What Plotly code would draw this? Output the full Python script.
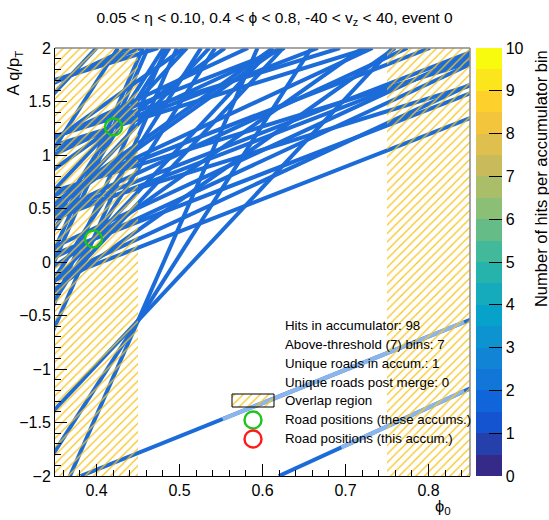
import plotly.graph_objects as go

# ---- accumulator content: one straight line per hit in (phi0, A q/pT) space ----
# hit_phi: phi0 at which the hit's line crosses A q/pT = 0
# hit_slope: d(A q/pT)/d(phi0) of that line (set by the layer radius)
hit_phi = [
    -0.105, 0.000, 0.070, 0.191, 0.268, 0.317, 0.349,
    0.325, 0.337, 0.357, 0.371, 0.379, 0.384,
    0.406,
    0.516, 0.495, 0.481,
    -0.359, -0.213, -0.116, 0.159,
    0.0725, 0.135, 0.177, 0.249, 0.295, 0.324, 0.343,
    -0.140, -0.040, 0.027, 0.142, 0.262,
    0.163, 0.197, 0.219, 0.257,
    0.396, 0.384, 0.371,
    0.310, 0.215, 0.362, 0.390,
    1.024, 1.183,
]
hit_slope = [
    2.4, 3.0, 3.6, 5.5, 8.3, 12.2, 17.7,
    3.0, 3.6, 5.5, 8.3, 12.2, 17.7,
    3.03,
    8.3, 12.2, 17.7,
    2.4, 3.0, 3.6, 8.3,
    2.4, 3.0, 3.6, 5.5, 8.3, 12.2, 17.7,
    2.4, 3.0, 3.6, 5.5, 12.2,
    2.4, 3.0, 3.6, 5.5,
    5.5, 8.3, 17.7,
    3.6, 3.0, 12.2, 3.6,
    3.11, 3.55,
]

# roads found in this accumulator group
road_phi = [0.4205, 0.3964]
road_qpt = [1.262, 0.215]

# sector-overlap phi ranges
overlap_lo = [0.35, 0.75]
overlap_hi = [0.45, 0.85]

info_lines = [
    "Hits in accumulator: 98",
    "Above-threshold (7) bins: 7",
    "Unique roads in accum.: 1",
    "Unique roads post merge: 0",
]
legend_labels = [
    "Overlap region",
    "Road positions (these accums.)",
    "Road positions (this accum.)",
]

PHI_MIN, PHI_MAX = 0.35, 0.85
Q_MIN, Q_MAX = -2.0, 2.0

LINE_BLUE = "#1b6bd8"
FADED_BLUE = "#8cb6ea"
HATCH_GOLD = "#f6c31c"
FONT = "Liberation Sans, Arial, sans-serif"

# segments of some hit lines rendered in a paler shade: (line index, phi from, phi to)
faded_parts = [(44, 0.552, 0.843), (45, 0.695, 0.843)]

# ROOT "bird" palette, 20 contour bands over 0..10
bird_r = [0.2082, 0.0592, 0.0780, 0.0232, 0.1802, 0.5301, 0.8186, 0.9956, 0.9764]
bird_g = [0.1664, 0.3599, 0.5041, 0.6419, 0.7178, 0.7492, 0.7328, 0.7862, 0.9832]
bird_b = [0.5293, 0.8684, 0.8385, 0.7914, 0.6425, 0.4662, 0.3499, 0.1968, 0.0539]


def bird(t):
    pos = t * (len(bird_r) - 1)
    i = min(int(pos), len(bird_r) - 2)
    f = pos - i
    c = [ch[i] + (ch[i + 1] - ch[i]) * f for ch in (bird_r, bird_g, bird_b)]
    return "rgb(%d,%d,%d)" % tuple(round(v * 255) for v in c)


n_bands = 20
colorscale = []
for i in range(n_bands):
    col = bird(i / (n_bands - 1))
    colorscale.append([i / n_bands, col])
    colorscale.append([(i + 1) / n_bands, col])

fig = go.Figure()

# palette key (heatmap kept outside the visible window, only its colour bar shows)
fig.add_trace(go.Heatmap(
    x=[5, 6], y=[5, 6], z=[[0, 10], [10, 0]],
    zmin=0, zmax=10, colorscale=colorscale, hoverinfo="skip",
    colorbar=dict(
        x=1.0145, xanchor="left", xref="paper", y=0.5, yanchor="middle",
        len=1.0, lenmode="fraction", thickness=26, outlinewidth=0,
        xpad=0, ypad=0,
        tickmode="array", tickvals=list(range(11)),
        ticks="inside", ticklen=13, tickcolor="black", tickwidth=1,
        tickfont=dict(family=FONT, size=16, color="black"),
    ),
))

# hit lines across the full A q/pT range
xs, ys = [], []
for phi, k in zip(hit_phi, hit_slope):
    xs += [phi + Q_MIN / k, phi + Q_MAX / k, None]
    ys += [Q_MIN, Q_MAX, None]
fig.add_trace(go.Scatter(x=xs, y=ys, mode="lines", hoverinfo="skip",
                         line=dict(color=LINE_BLUE, width=4), showlegend=False))

fx, fy = [], []
for idx, a, b in faded_parts:
    phi, k = hit_phi[idx], hit_slope[idx]
    fx += [a, b, None]
    fy += [k * (a - phi), k * (b - phi), None]
fig.add_trace(go.Scatter(x=fx, y=fy, mode="lines", hoverinfo="skip",
                         line=dict(color=FADED_BLUE, width=4), showlegend=False))

# hatched overlap regions drawn over the accumulator
for lo, hi in zip(overlap_lo, overlap_hi):
    fig.add_trace(go.Scatter(
        x=[lo, hi, hi, lo, lo], y=[Q_MIN, Q_MIN, Q_MAX, Q_MAX, Q_MIN],
        mode="lines", fill="toself", line=dict(width=0),
        fillcolor="rgba(0,0,0,0)",
        fillpattern=dict(shape="/", fgcolor=HATCH_GOLD, bgcolor="rgba(0,0,0,0)",
                         size=6, solidity=0.2, fillmode="replace"),
        hoverinfo="skip", showlegend=False))

# road markers
fig.add_trace(go.Scatter(x=road_phi, y=road_qpt, mode="markers", hoverinfo="skip",
                         marker=dict(symbol="circle-open", size=17, color="#1cc41c",
                                     line=dict(width=2.4, color="#1cc41c")),
                         showlegend=False))

# ---- key drawn on an overlay frame measured in pixels of the plot area ----
fig.add_trace(go.Scatter(
    x=[232, 274, 274, 232, 232], y=[394, 394, 407, 407, 394], xaxis="x2", yaxis="y2",
    mode="lines", fill="toself", line=dict(width=1, color="black"),
    fillcolor="rgba(0,0,0,0)",
    fillpattern=dict(shape="/", fgcolor=HATCH_GOLD, bgcolor="rgba(0,0,0,0)",
                     size=6, solidity=0.2, fillmode="replace"),
    hoverinfo="skip", showlegend=False))
fig.add_trace(go.Scatter(
    x=[253, 253], y=[420, 439], xaxis="x2", yaxis="y2", mode="markers",
    marker=dict(symbol="circle-open", size=17, color=["#1cc41c", "#ff1a1a"],
                line=dict(width=2.4, color=["#1cc41c", "#ff1a1a"])),
    hoverinfo="skip", showlegend=False))

annotations = []
text_rows = info_lines + legend_labels
row_y = [325, 344, 363, 382, 400, 419, 438]
for txt, yy in zip(text_rows, row_y):
    annotations.append(dict(x=283, y=yy, xref="x2", yref="y2", text=txt,
                            showarrow=False, xanchor="left", yanchor="middle",
                            font=dict(family=FONT, size=13.3, color="black")))

# axis titles and colour-bar title
annotations.append(dict(x=-0.099, y=1.0, xref="paper", yref="paper",
                        text="A q/p<sub>T</sub>", textangle=-90, showarrow=False,
                        xanchor="center", yanchor="top",
                        font=dict(family=FONT, size=16.5, color="black")))
annotations.append(dict(x=0.935, y=-0.072, xref="paper", yref="paper",
                        text="ϕ<sub>0</sub>", showarrow=False,
                        xanchor="center", yanchor="middle",
                        font=dict(family=FONT, size=16.5, color="black")))
annotations.append(dict(x=1.17, y=1.0, xref="paper", yref="paper",
                        text="Number of hits per accumulator bin", textangle=-90,
                        showarrow=False, xanchor="center", yanchor="top",
                        font=dict(family=FONT, size=16.5, color="black")))

axis_common = dict(showgrid=False, zeroline=False, showline=True, linecolor="black",
                   linewidth=1, ticks="inside", tickcolor="black", ticklen=12,
                   tickfont=dict(family=FONT, size=16, color="black"))

fig.update_layout(
    width=549, height=520,
    margin=dict(l=55, r=79, t=48, b=44, pad=0),
    paper_bgcolor="white", plot_bgcolor="white",
    title=dict(text="0.05 < η < 0.10, 0.4 < ϕ < 0.8, -40 < v<sub>z</sub> < 40, event 0",
               x=0.5, xanchor="center", y=0.967, yanchor="middle",
               font=dict(family=FONT, size=15.5, color="black")),
    xaxis=dict(range=[PHI_MIN, PHI_MAX], tickvals=[0.4, 0.5, 0.6, 0.7, 0.8],
               minor=dict(dtick=0.02, tick0=0.4, ticks="inside", ticklen=6,
                          tickcolor="black", showgrid=False),
               **axis_common),
    yaxis=dict(range=[Q_MIN, Q_MAX], dtick=0.5, tick0=0,
               minor=dict(dtick=0.1, tick0=0, ticks="inside", ticklen=6,
                          tickcolor="black", showgrid=False),
               **axis_common),
    xaxis2=dict(overlaying="x", range=[55, 470], visible=False, fixedrange=True),
    yaxis2=dict(overlaying="y", range=[476, 48], visible=False, fixedrange=True),
    annotations=annotations,
    shapes=[
        dict(type="line", xref="paper", yref="paper", x0=0, x1=1, y0=1, y1=1,
             line=dict(color="#8a8a8a", width=1.5)),
        dict(type="line", xref="paper", yref="paper", x0=1, x1=1, y0=0, y1=1,
             line=dict(color="#8a8a8a", width=1.5)),
    ],
    showlegend=False,
)

fig.write_html("out.html")
